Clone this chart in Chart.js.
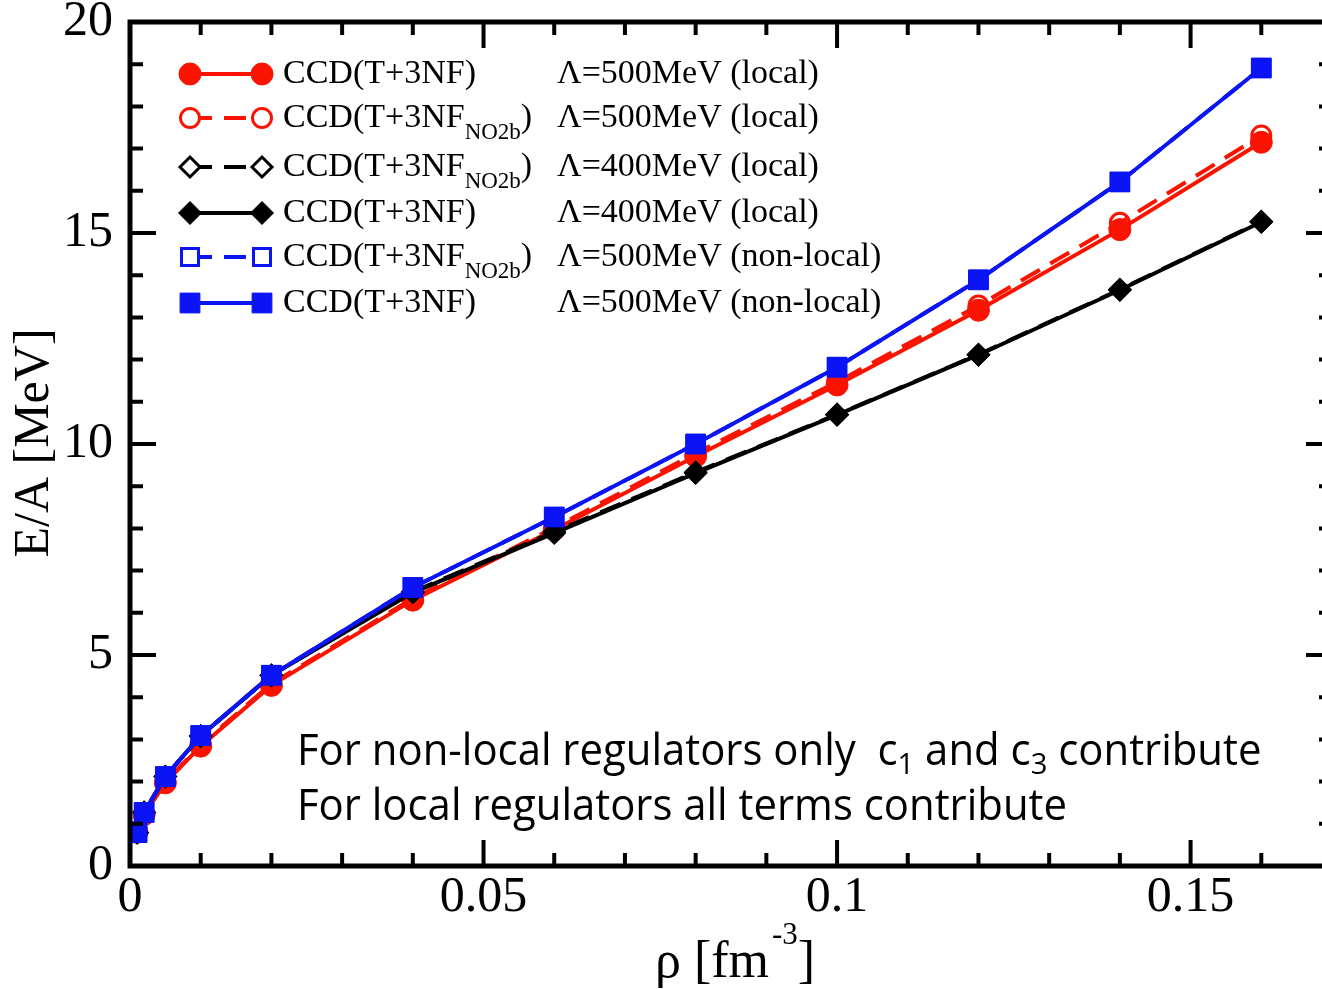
<!DOCTYPE html>
<html>
<head>
<meta charset="utf-8">
<script src="https://cdn.jsdelivr.net/npm/chart.js@4.4.1/dist/chart.umd.min.js"></script>
<style>
  html, body { margin: 0; padding: 0; background: #fff; overflow: hidden; }
  #wrap { position: relative; width: 1347px; height: 989px; }
</style>
</head>
<body>
<div id="wrap"><canvas id="eosChart"></canvas></div>
<script>
// density grid [fm^-3]
const density = [0.001, 0.002, 0.005, 0.01, 0.02, 0.04, 0.06, 0.08, 0.1, 0.12, 0.14, 0.16]

// E/A [MeV] per run
const local500 = [0.80, 1.22, 1.97, 2.84, 4.28, 6.30, 7.97, 9.71, 11.40, 13.17, 15.08, 17.15]
const local500NO2b = [0.80, 1.23, 1.99, 2.87, 4.32, 6.34, 8.02, 9.78, 11.47, 13.28, 15.24, 17.31]
const local400NO2b = [0.79, 1.27, 2.12, 3.08, 4.52, 6.50, 7.92, 9.33, 10.70, 12.12, 13.66, 15.27]
const local400 = [0.79, 1.27, 2.12, 3.08, 4.52, 6.48, 7.89, 9.31, 10.69, 12.11, 13.65, 15.26]
const nonlocal500NO2b = [0.79, 1.27, 2.12, 3.09, 4.52, 6.60, 8.27, 10.00, 11.82, 13.89, 16.21, 18.91]
const nonlocal500 = [0.79, 1.27, 2.12, 3.09, 4.52, 6.60, 8.27, 10.00, 11.82, 13.89, 16.21, 18.91]

const xTicks = [0, 0.05, 0.1, 0.15]
const yTicks = [0, 5, 10, 15, 20]

const seriesSubs = ["", "NO2b", "NO2b", "", "NO2b", ""]
const cutoffs = [
  "Λ=500MeV (local)",
  "Λ=500MeV (local)",
  "Λ=400MeV (local)",
  "Λ=400MeV (local)",
  "Λ=500MeV (non-local)",
  "Λ=500MeV (non-local)",
]

const RED = "#fa1400"
const BLUE = "#0a14f5"
const BLACK = "#000000"
const SERIF = "'Liberation Serif', 'Times New Roman', serif"
const SANS = "'Open Sans', 'Noto Sans', sans-serif"

const pts = (ys) => density.map((x, i) => ({ x: x, y: ys[i] }))

function series(label, ys, color, dashed, style, radius, hollow, order) {
  return {
    label: label,
    data: pts(ys),
    borderColor: color,
    borderWidth: 4,
    borderDash: dashed ? [22, 12] : [],
    pointStyle: style,
    pointRadius: radius,
    pointHoverRadius: radius,
    pointBorderWidth: hollow ? 3 : 1,
    pointBorderColor: color,
    pointBackgroundColor: hollow ? "rgba(255,255,255,0)" : color,
    backgroundColor: color,
    fill: false,
    tension: 0,
    order: order,
  }
}

const datasets = [
  series("CCD(T+3NF)", local500, RED, false, "circle", 11, false, 5),
  series("CCD(T+3NF_NO2b)", local500NO2b, RED, true, "circle", 9.5, true, 4),
  series("CCD(T+3NF_NO2b)", local400NO2b, BLACK, true, "rectRot", 10, true, 3),
  series("CCD(T+3NF)", local400, BLACK, false, "rectRot", 11.5, false, 2),
  series("CCD(T+3NF_NO2b)", nonlocal500NO2b, BLUE, true, "rect", 12, true, 1),
  series("CCD(T+3NF)", nonlocal500, BLUE, false, "rect", 14, false, 0),
]

// frame with inward ticks on all four sides, legend, notes and axis titles
const decorations = {
  id: "decorations",
  afterDraw(chart) {
    const ctx = chart.ctx
    const a = chart.chartArea
    const xs = chart.scales.x
    const ys = chart.scales.y
    ctx.save()
    ctx.strokeStyle = "#000"
    ctx.lineCap = "butt"

    // ticks
    ctx.lineWidth = 4
    for (let i = 1; i <= 17; i++) {
      const px = xs.getPixelForValue(i / 100)
      const len = i % 5 === 0 ? 26 : 13
      ctx.beginPath()
      ctx.moveTo(px, a.bottom); ctx.lineTo(px, a.bottom - len)
      ctx.moveTo(px, a.top); ctx.lineTo(px, a.top + len)
      ctx.stroke()
    }
    for (let i = 1; i < 20; i++) {
      const py = ys.getPixelForValue(i)
      const len = i % 5 === 0 ? 26 : 13
      ctx.beginPath()
      ctx.moveTo(a.left, py); ctx.lineTo(a.left + len, py)
      ctx.moveTo(a.right, py); ctx.lineTo(a.right - len, py)
      ctx.stroke()
    }
    ctx.lineWidth = 5
    ctx.strokeRect(a.left, a.top, a.right - a.left, a.bottom - a.top)

    // legend
    const rowY = [74, 118, 167, 213, 257, 303]
    chart.data.datasets.forEach((ds, i) => {
      const y = rowY[i]
      ctx.strokeStyle = ds.borderColor
      ctx.lineWidth = 4
      ctx.setLineDash(ds.borderDash)
      ctx.beginPath()
      ctx.moveTo(190, y); ctx.lineTo(262, y)
      ctx.stroke()
      ctx.setLineDash([])
      const hollow = ds.pointBorderWidth > 1
      ctx.fillStyle = hollow ? "#fff" : ds.pointBackgroundColor
      ctx.strokeStyle = ds.pointBorderColor
      ctx.lineWidth = ds.pointBorderWidth
      const opts = { pointStyle: ds.pointStyle, radius: ds.pointRadius, borderWidth: ds.pointBorderWidth, rotation: 0 }
      Chart.helpers.drawPoint(ctx, opts, 190, y)
      Chart.helpers.drawPoint(ctx, opts, 262, y)

      ctx.fillStyle = "#000"
      ctx.textAlign = "left"
      ctx.textBaseline = "alphabetic"
      ctx.font = "34px " + SERIF
      const base = y + 9
      if (seriesSubs[i]) {
        let x = 283
        ctx.fillText("CCD(T+3NF", x, base)
        x += ctx.measureText("CCD(T+3NF").width
        ctx.font = "23px " + SERIF
        ctx.fillText(seriesSubs[i], x, base + 12)
        x += ctx.measureText(seriesSubs[i]).width
        ctx.font = "34px " + SERIF
        ctx.fillText(")", x, base)
      } else {
        ctx.fillText("CCD(T+3NF)", 283, base)
      }
      ctx.font = "34px " + SERIF
      ctx.fillText(cutoffs[i], 557, base)
    })

    // notes
    ctx.fillStyle = "#000"
    ctx.font = "43px " + SANS
    const line2 = "For local regulators all terms contribute"
    const sx = 770 / ctx.measureText(line2).width
    ctx.save()
    ctx.translate(297, 0)
    ctx.scale(sx, 1)
    const parts = [
      ["For non-local regulators only  c", 43, 0],
      ["1", 30, 9],
      [" and c", 43, 0],
      ["3", 30, 9],
      [" contribute", 43, 0],
    ]
    let cx = 0
    parts.forEach(p => {
      ctx.font = p[1] + "px " + SANS
      ctx.fillText(p[0], cx, 765 + p[2])
      cx += ctx.measureText(p[0]).width
    })
    ctx.font = "43px " + SANS
    ctx.fillText(line2, 0, 820)
    ctx.restore()

    // axis titles
    ctx.font = "50px " + SERIF
    ctx.save()
    ctx.translate(35, 443)
    ctx.rotate(-Math.PI / 2)
    ctx.textAlign = "center"
    ctx.textBaseline = "middle"
    ctx.fillText("E/A [MeV]", 0, 0)
    ctx.restore()

    ctx.textAlign = "left"
    ctx.textBaseline = "alphabetic"
    ctx.font = "52px " + SERIF
    let tx = 655
    ctx.fillText("ρ [fm", tx, 977)
    tx += ctx.measureText("ρ [fm").width
    ctx.font = "31px " + SERIF
    ctx.fillText("-3", tx + 3, 944)
    tx += ctx.measureText("-3").width + 3
    ctx.font = "52px " + SERIF
    ctx.fillText("]", tx, 977)
    ctx.restore()
  },
}

const ctx = document.getElementById("eosChart")
new Chart(ctx, {
  type: "line",
  data: { datasets: datasets },
  options: {
    responsive: true,
    maintainAspectRatio: false,
    animation: false,
    events: [],
    layout: { padding: { top: 22, right: 14, left: 0, bottom: 0 } },
    plugins: { legend: { display: false }, tooltip: { enabled: false } },
    scales: {
      x: {
        type: "linear",
        min: 0,
        max: 0.17,
        afterBuildTicks: (s) => { s.ticks = xTicks.map(v => ({ value: v })) },
        afterFit: (s) => { s.height = 123; s.paddingLeft = 0; s.paddingRight = 0 },
        grid: { display: false },
        border: { display: false },
        ticks: {
          padding: -6,
          color: "#000",
          font: { family: SERIF, size: 50 },
          callback: (v) => String(v),
        },
      },
      y: {
        min: 0,
        max: 20,
        afterBuildTicks: (s) => { s.ticks = yTicks.map(v => ({ value: v })) },
        afterFit: (s) => { s.width = 130; s.paddingTop = 0; s.paddingBottom = 0 },
        grid: { display: false },
        border: { display: false },
        ticks: {
          padding: 9,
          color: "#000",
          font: { family: SERIF, size: 50 },
        },
      },
    },
  },
  plugins: [decorations],
})
</script>
</body>
</html>
